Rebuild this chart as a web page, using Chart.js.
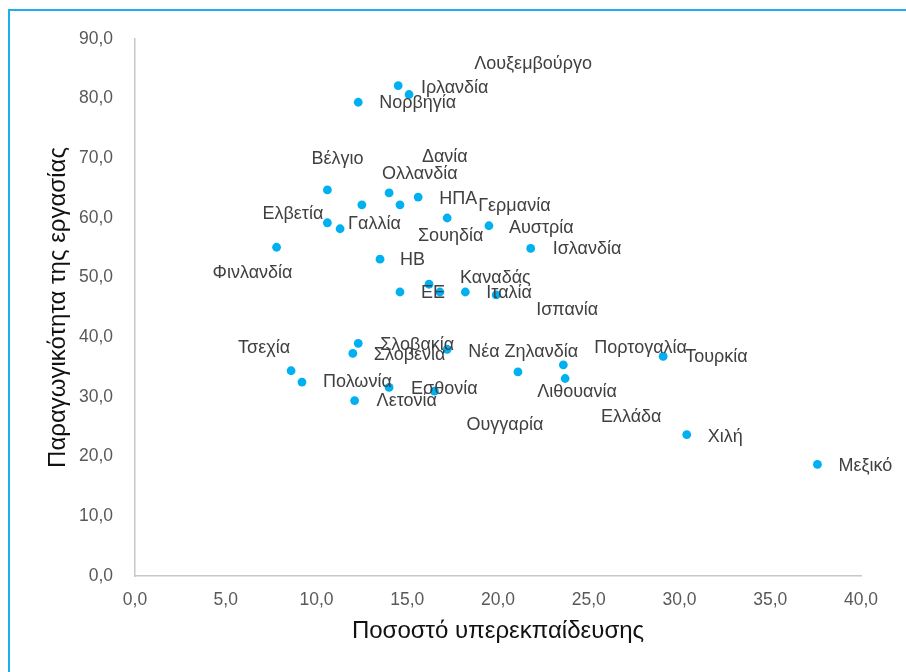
<!DOCTYPE html>
<html lang="el">
<head>
<meta charset="utf-8">
<title>Υπερεκπαίδευση και παραγωγικότητα</title>
<script src="https://cdn.jsdelivr.net/npm/chart.js@4.4.1/dist/chart.umd.min.js"></script>
<style>
    html, body { margin: 0; padding: 0; background: #fff; overflow: hidden; }
    #wrap { position: relative; width: 906px; height: 672px; }
    #frame { position: absolute; left: 8px; top: 9px; width: 1000px; height: 1000px; border: 2px solid #1ab0ec; pointer-events: none; }
</style>
</head>
<body>
<div id="wrap">
    <canvas id="chartScatter" width="906" height="672"></canvas>
    <div id="frame"></div>
</div>
<script>
// ονόματα χωρών (κενό = σημείο χωρίς ετικέτα)
const countries = [
    "Λουξεμβούργο", "Ιρλανδία", "Νορβηγία", "Βέλγιο", "Ολλανδία", "Δανία", "Σουηδία", "ΗΠΑ",
    "Γερμανία", "Αυστρία", "Ελβετία", "Γαλλία", "Φινλανδία", "ΗΒ", "Ισλανδία", "Καναδάς",
    "ΕΕ", "", "Ιταλία", "Ισπανία", "Σλοβακία", "Σλοβενία", "Νέα Ζηλανδία", "Πορτογαλία",
    "Ελλάδα", "Λιθουανία", "Τσεχία", "Πολωνία", "Εσθονία", "Ουγγαρία", "Λετονία", "Τουρκία",
    "Χιλή", "Μεξικό"
];
// Ποσοστό υπερεκπαίδευσης (άξονας x)
const overqualification = [
    14.5, 15.1, 12.3, 10.6, 14.0, 12.5, 14.6, 15.6,
    17.2, 19.5, 10.6, 11.3, 7.8, 13.5, 21.8, 16.2,
    14.6, 16.8, 18.2, 19.9, 12.3, 12.0, 17.2, 23.6,
    21.1, 23.7, 8.6, 9.2, 14.0, 16.5, 12.1, 29.1,
    30.4, 37.6
];
// Παραγωγικότητα της εργασίας (άξονας y)
const productivity = [
    82.2, 80.7, 79.4, 64.7, 64.2, 62.2, 62.2, 63.5,
    60.0, 58.7, 59.2, 58.2, 55.1, 53.1, 54.9, 48.9,
    47.6, 47.6, 47.6, 47.1, 39.0, 37.3, 38.0, 35.4,
    34.2, 33.1, 34.4, 32.5, 31.6, 31.0, 29.4, 36.8,
    23.7, 18.7
];
const xTicks = [0, 5, 10, 15, 20, 25, 30, 35, 40];
const yTicks = [0, 10, 20, 30, 40, 50, 60, 70, 80, 90];

// μετατόπιση ετικέτας από το σημείο, σε pixel [dx, dy]
const labelShift = [
    [76, -22], [12, -6], [21, 1], [-16, -31], [-7, -19], [60, -48], [18, 31], [21, 2],
    [31, -12], [20, 2], [-65, -9], [8, -5], [-64, 26], [20, 1], [22, 1], [31, -6],
    [21, 1], [0, 0], [21, 1], [40, 15], [22, 2], [21, 2], [21, 3], [31, -17],
    [83, 45], [-28, 14], [-53, -23], [21, 0], [22, 2], [32, 34], [22, 0], [22, 1],
    [21, 2], [21, 2]
];

const FONT = "'Liberation Sans', Arial, sans-serif";
const commaFmt = v => v.toFixed(1).replace(".", ",");

const points = overqualification.map((x, i) => ({ x: x, y: productivity[i] }));

const pointLabels = {
    id: "pointLabels",
    afterDatasetsDraw(chart) {
        const ctx = chart.ctx;
        const meta = chart.getDatasetMeta(0);
        ctx.save();
        ctx.font = "18px " + FONT;
        ctx.fillStyle = "#404040";
        ctx.textAlign = "left";
        ctx.textBaseline = "middle";
        meta.data.forEach((pt, i) => {
            if (!countries[i]) return;
            ctx.fillText(countries[i], pt.x + labelShift[i][0], pt.y + labelShift[i][1]);
        });
        ctx.restore();
    }
};

new Chart(document.getElementById("chartScatter"), {
    type: "scatter",
    data: {
        datasets: [{
            data: points,
            backgroundColor: "#00b0f0",
            borderWidth: 0,
            pointRadius: 4.4,
            pointHoverRadius: 4.4
        }]
    },
    options: {
        responsive: false,
        animation: false,
        layout: { padding: { left: 0, top: 39, right: 45, bottom: 0 } },
        plugins: { legend: { display: false }, tooltip: { enabled: false } },
        scales: {
            x: {
                type: "linear",
                min: 0,
                max: 40,
                afterBuildTicks: s => { s.ticks = xTicks.map(v => ({ value: v })); },
                afterFit: s => { s.height = 96; },
                ticks: { callback: commaFmt, color: "#595959", font: { family: FONT, size: 17.5 }, padding: 14, maxRotation: 0 },
                grid: { display: false, drawTicks: false },
                border: { color: "#c8c8c8", width: 1.5 },
                title: { display: true, text: "Ποσοστό υπερεκπαίδευσης", color: "#111", font: { family: FONT, size: 24 }, padding: { top: 0, bottom: 26 } }
            },
            y: {
                type: "linear",
                min: 0,
                max: 90,
                afterBuildTicks: s => { s.ticks = yTicks.map(v => ({ value: v })); },
                afterFit: s => { s.width = 135; },
                ticks: { callback: commaFmt, color: "#595959", font: { family: FONT, size: 17.5 }, padding: 22 },
                grid: { display: false, drawTicks: false },
                border: { color: "#c8c8c8", width: 1.5 },
                title: { display: true, text: "Παραγωγικότητα της εργασίας", color: "#111", font: { family: FONT, size: 24 }, padding: { top: 44, bottom: 0 } }
            }
        }
    },
    plugins: [pointLabels]
});
</script>
</body>
</html>
